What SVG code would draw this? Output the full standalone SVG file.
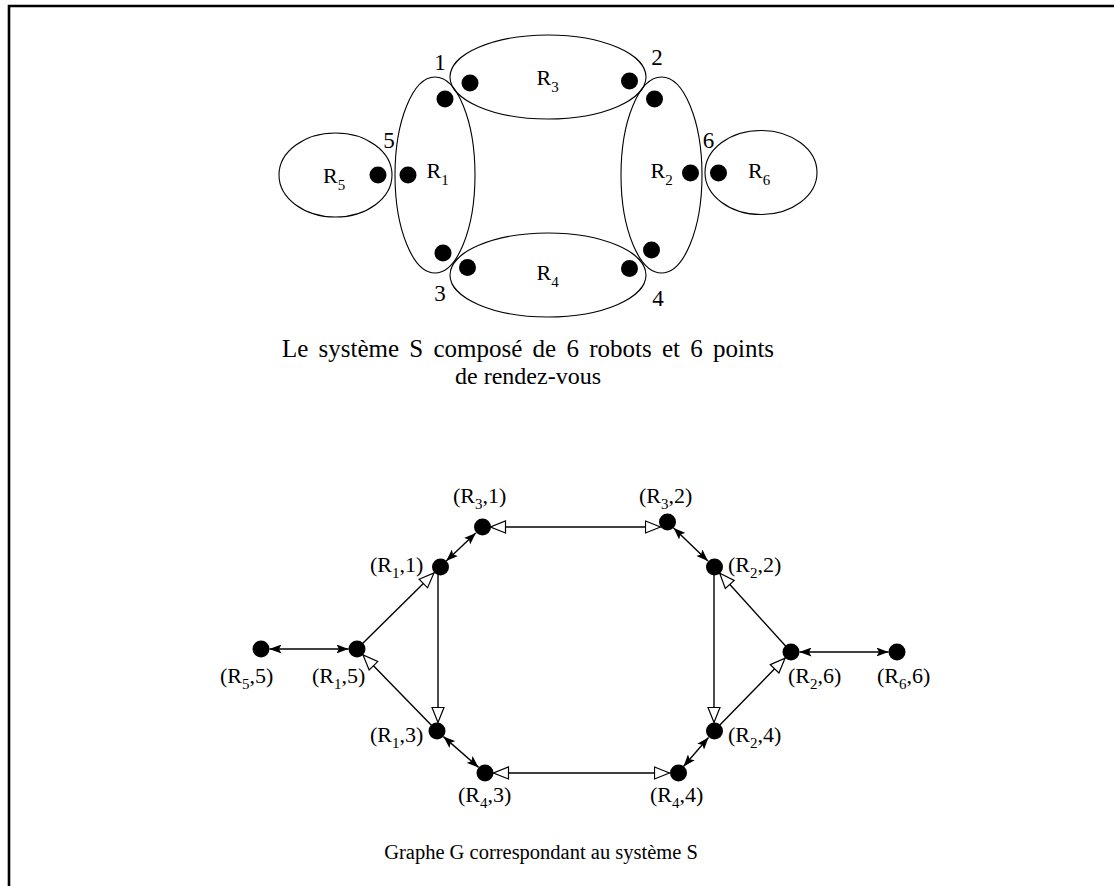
<svg xmlns="http://www.w3.org/2000/svg" width="1114" height="886" viewBox="0 0 1114 886" font-family="'Liberation Serif', 'Times New Roman', serif">
  <style>
    text { font-family: "Liberation Serif", "Times New Roman", serif; font-size: 22px; fill: #000; }
    .sub { font-size: 15px; }
    .num { font-size: 23px; }
    .cap { font-size: 24px; }
    .wide { font-size: 25px; word-spacing: 4px; }
    .capg { font-size: 20.5px; }
    .zone { fill: none; stroke: #000; stroke-width: 1.1; }
    .pt { fill: #000; }
    .edge { stroke: #000; stroke-width: 1.4; fill: none; }
    .both { marker-start: url(#solid); marker-end: url(#solid); }
    .open2 { marker-start: url(#hollow); marker-end: url(#hollow); }
    .open1 { marker-end: url(#hollow); }
  </style>
  <defs>
    <marker id="solid" viewBox="0 0 12 9" refX="12" refY="4.5" markerWidth="12" markerHeight="9" orient="auto-start-reverse" markerUnits="userSpaceOnUse">
      <path d="M0,0 L12,4.5 L0,9 L2.5,4.5 z" fill="#000"/>
    </marker>
    <marker id="hollow" viewBox="-1 -1 17 14" refX="15" refY="6" markerWidth="17" markerHeight="14" orient="auto-start-reverse" markerUnits="userSpaceOnUse">
      <path d="M0,0 L15,6 L0,12 z" fill="#fff" stroke="#000" stroke-width="1.2"/>
    </marker>
  </defs>

  <rect width="1114" height="886" fill="#fff"/>
  <!-- frame -->
  <path d="M9,886 V6 H1114" fill="none" stroke="#000" stroke-width="2.6"/>

  <!-- ===== System S: robots and meeting points ===== -->
  <g id="robot-R5">
    <ellipse class="zone" cx="335.5" cy="175" rx="56.5" ry="42"/>
    <circle class="pt" cx="378" cy="175" r="8.5"/>
    <text x="323" y="183">R<tspan class="sub" dy="7">5</tspan></text>
  </g>
  <g id="robot-R1">
    <ellipse class="zone" cx="435" cy="175" rx="40" ry="98"/>
    <circle class="pt" cx="445" cy="99" r="8.5"/>
    <circle class="pt" cx="408" cy="175" r="8.5"/>
    <circle class="pt" cx="443" cy="253" r="8.5"/>
    <text x="426.5" y="178">R<tspan class="sub" dy="7">1</tspan></text>
  </g>
  <g id="robot-R3">
    <ellipse class="zone" cx="548" cy="77" rx="98" ry="42"/>
    <circle class="pt" cx="470" cy="83" r="8.5"/>
    <circle class="pt" cx="629.5" cy="81" r="8.5"/>
    <text x="536.5" y="85">R<tspan class="sub" dy="7">3</tspan></text>
  </g>
  <g id="robot-R4">
    <ellipse class="zone" cx="548" cy="275" rx="98" ry="42"/>
    <circle class="pt" cx="467.5" cy="267.5" r="8.5"/>
    <circle class="pt" cx="629.5" cy="268.5" r="8.5"/>
    <text x="536.5" y="280">R<tspan class="sub" dy="7">4</tspan></text>
  </g>
  <g id="robot-R2">
    <ellipse class="zone" cx="661.5" cy="175" rx="40.5" ry="98"/>
    <circle class="pt" cx="654.5" cy="99" r="8.5"/>
    <circle class="pt" cx="690.5" cy="173" r="8.5"/>
    <circle class="pt" cx="651.5" cy="250" r="8.5"/>
    <text x="650.5" y="178">R<tspan class="sub" dy="7">2</tspan></text>
  </g>
  <g id="robot-R6">
    <ellipse class="zone" cx="761" cy="172.5" rx="56" ry="42"/>
    <circle class="pt" cx="718.5" cy="173" r="8.5"/>
    <text x="748" y="178">R<tspan class="sub" dy="7">6</tspan></text>
  </g>
  <g id="meeting-points" text-anchor="middle">
    <text class="num" x="440" y="70">1</text>
    <text class="num" x="657" y="65">2</text>
    <text class="num" x="440" y="301">3</text>
    <text class="num" x="658" y="306">4</text>
    <text class="num" x="389" y="148">5</text>
    <text class="num" x="708.5" y="148">6</text>
  </g>
  <g id="caption-S" text-anchor="middle">
    <text class="wide" x="528" y="357">Le système S composé de 6 robots et 6 points</text>
    <text class="cap" x="528" y="384">de rendez-vous</text>
  </g>

  <!-- ===== Graph G ===== -->
  <g id="connectors">
    <line class="edge both" x1="269.5" y1="649" x2="348.5" y2="649"/>
    <line class="edge open1" x1="357" y1="649" x2="434" y2="573"/>
    <line class="edge open1" x1="438" y1="567" x2="438" y2="722.5"/>
    <line class="edge open1" x1="437" y1="731" x2="363" y2="655"/>
    <line class="edge both" x1="446.2" y1="561.1" x2="475.8" y2="532.9"/>
    <line class="edge open2" x1="490.5" y1="527" x2="660.5" y2="527"/>
    <line class="edge both" x1="673.6" y1="527.9" x2="707.9" y2="561.1"/>
    <line class="edge open1" x1="791" y1="652" x2="719.7" y2="573.3"/>
    <line class="edge open1" x1="714" y1="567" x2="714" y2="722.5"/>
    <line class="edge open1" x1="714" y1="731" x2="785.1" y2="658.1"/>
    <line class="edge both" x1="799.5" y1="652" x2="888.5" y2="652"/>
    <line class="edge both" x1="708.5" y1="737.5" x2="683.5" y2="766.5"/>
    <line class="edge open2" x1="493.5" y1="773" x2="669.5" y2="773"/>
    <line class="edge both" x1="478.6" y1="767.4" x2="443.4" y2="736.6"/>
  </g>

  <g id="n-R5-5"><circle class="pt" cx="261" cy="649" r="8.5"/><text x="220" y="683">(R<tspan class="sub" dy="6">5</tspan><tspan dy="-6">,5)</tspan></text></g>
  <g id="n-R1-5"><circle class="pt" cx="357" cy="649" r="8.5"/><text x="312" y="683">(R<tspan class="sub" dy="6">1</tspan><tspan dy="-6">,5)</tspan></text></g>
  <g id="n-R1-1"><circle class="pt" cx="440.5" cy="567" r="8.5"/><text x="370" y="572">(R<tspan class="sub" dy="6">1</tspan><tspan dy="-6">,1)</tspan></text></g>
  <g id="n-R3-1"><circle class="pt" cx="482.5" cy="527" r="8.5"/><text x="453" y="503">(R<tspan class="sub" dy="6">3</tspan><tspan dy="-6">,1)</tspan></text></g>
  <g id="n-R3-2"><circle class="pt" cx="667.5" cy="522" r="8.5"/><text x="639" y="503">(R<tspan class="sub" dy="6">3</tspan><tspan dy="-6">,2)</tspan></text></g>
  <g id="n-R2-2"><circle class="pt" cx="714.5" cy="567" r="8.5"/><text x="728" y="572">(R<tspan class="sub" dy="6">2</tspan><tspan dy="-6">,2)</tspan></text></g>
  <g id="n-R2-6"><circle class="pt" cx="791" cy="652" r="8.5"/><text x="788" y="683">(R<tspan class="sub" dy="6">2</tspan><tspan dy="-6">,6)</tspan></text></g>
  <g id="n-R6-6"><circle class="pt" cx="897" cy="652" r="8.5"/><text x="877" y="683">(R<tspan class="sub" dy="6">6</tspan><tspan dy="-6">,6)</tspan></text></g>
  <g id="n-R1-3"><circle class="pt" cx="437" cy="731" r="8.5"/><text x="370" y="742">(R<tspan class="sub" dy="6">1</tspan><tspan dy="-6">,3)</tspan></text></g>
  <g id="n-R2-4"><circle class="pt" cx="714.5" cy="731" r="8.5"/><text x="728" y="742">(R<tspan class="sub" dy="6">2</tspan><tspan dy="-6">,4)</tspan></text></g>
  <g id="n-R4-3"><circle class="pt" cx="485" cy="773" r="8.5"/><text x="458" y="802">(R<tspan class="sub" dy="6">4</tspan><tspan dy="-6">,3)</tspan></text></g>
  <g id="n-R4-4"><circle class="pt" cx="678.5" cy="773" r="8.5"/><text x="650" y="802">(R<tspan class="sub" dy="6">4</tspan><tspan dy="-6">,4)</tspan></text></g>

  <g id="caption-G" text-anchor="middle">
    <text class="capg" x="541" y="859">Graphe G correspondant au système S</text>
  </g>
</svg>
